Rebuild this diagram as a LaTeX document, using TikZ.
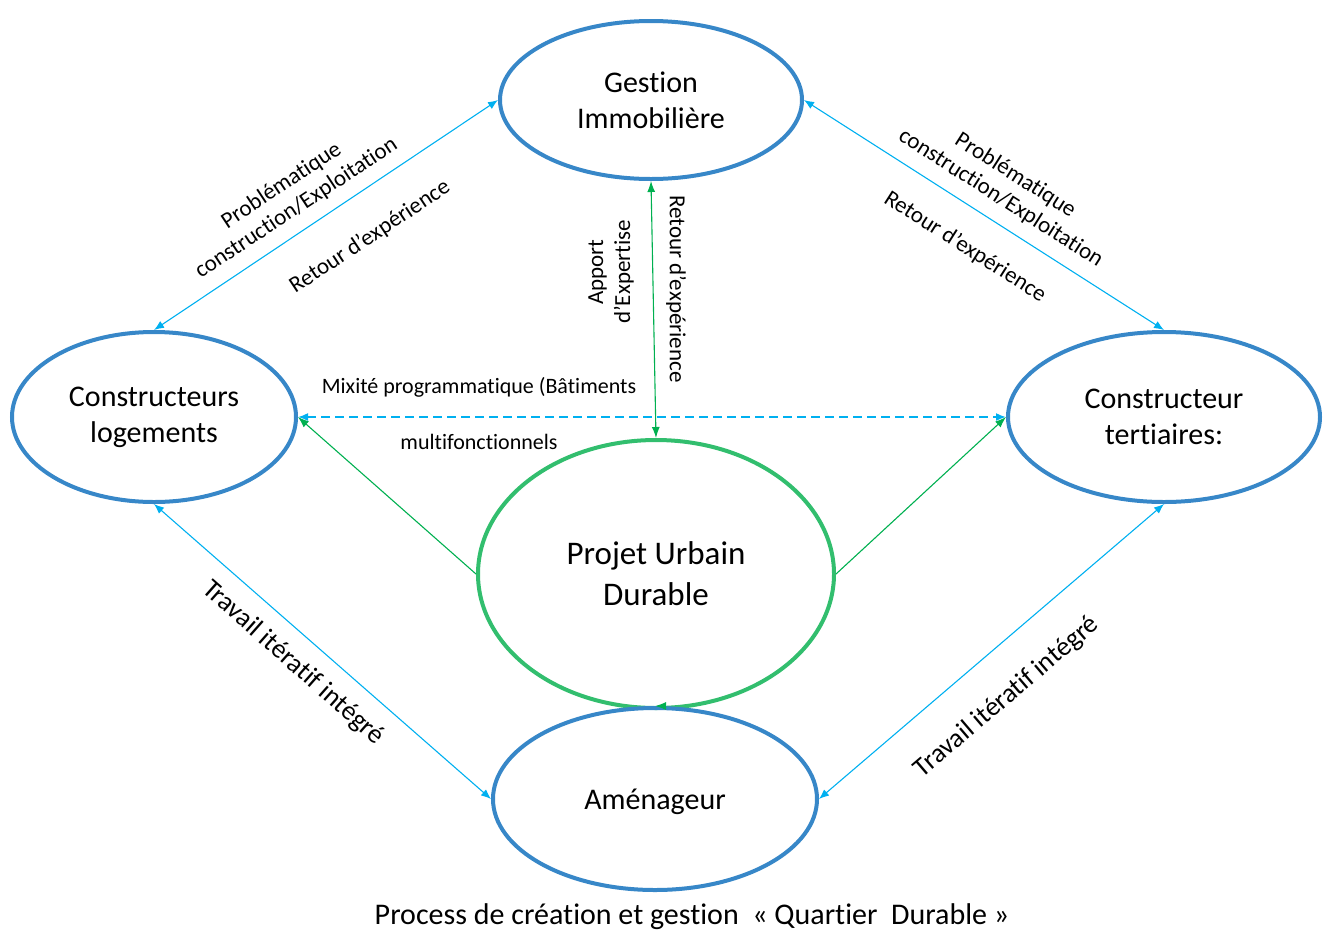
\documentclass[tikz,border=0pt]{standalone}
\usepackage{fontspec}
\setmainfont{Carlito}[RawFeature={-liga;-clig;-dlig;-calt}]
\usepackage{tikz}
\usetikzlibrary{shapes.geometric,arrows.meta,positioning,calc}
\usepackage{xcolor}

\definecolor{bleuell}{RGB}{55,135,200}
\definecolor{vertell}{RGB}{50,190,110}
\definecolor{cyanlig}{RGB}{0,176,240}
\definecolor{vertlig}{RGB}{0,176,80}

\tikzset{
  bulle/.style={ellipse, draw=bleuell, line width=4pt, inner sep=0pt, align=center,
    font=\fontsize{30}{36}\selectfont},
  fleche/.style={cyanlig, line width=1.1pt,
    {Latex[length=10pt,width=8pt]}-{Latex[length=10pt,width=8pt]}},
  flechev/.style={vertlig, line width=1.1pt, -{Latex[length=11pt,width=8pt]}},
  etiq/.style={font=\fontsize{23}{27}\selectfont, align=center},
  petit/.style={font=\fontsize{22}{26}\selectfont},
}

\begin{document}
\begin{tikzpicture}[x=1pt,y=-1pt]
            \useasboundingbox (0,0) rectangle (1328,930);

            % ellipses
            \node[bulle, minimum width=302pt, minimum height=158pt] (gestion) at (651,100) {Gestion\\Immobilière};
            \node[bulle, minimum width=284pt, minimum height=170pt] (logem) at (154,417) {Constructeurs\\logements};
            \node[bulle, minimum width=312pt, minimum height=170pt] (tert) at (1164,417) {Constructeur\\tertiaires:};
            \node[bulle, draw=vertell, minimum width=356pt, minimum height=268pt,
                  font=\fontsize{33}{41}\selectfont] (projet) at (656,574) {Projet Urbain\\Durable};
            \node[bulle, minimum width=324pt, minimum height=182pt, text height=26pt, text depth=6pt] (amen) at (655,799) {Aménageur};

            % Liens bleus
            \draw[fleche] (logem.north) -- (gestion.west);
            \draw[fleche] (gestion.east) -- (tert.north);
            \draw[fleche] (logem.south) -- (amen.west);
            \draw[fleche] (tert.south) -- (amen.east);
            \draw[fleche, dashed, dash pattern=on 9pt off 5pt, line width=1.6pt] (logem.east) -- (tert.west);

            % Liens verts
            \draw[flechev, {Latex[length=11pt,width=8pt]}-{Latex[length=11pt,width=8pt]}] (gestion.south) -- (projet.north);
            \draw[flechev] (projet.west) -- (logem.east);
            \draw[flechev] (projet.east) -- (tert.west);
            \draw[flechev] ([xshift=10pt]amen.north) -- (amen.north);

            % Labels
            \node[etiq, rotate=33.5] (probg) at (289,197) {Problématique\\construction/Exploitation};
            \node[etiq, rotate=33.5] (retg) at (370,237) {Retour d'expérience};
            \node[etiq, rotate=-32.5] (probd) at (1008,187) {Problématique\\construction/Exploitation};
            \node[etiq, rotate=-32.5] (retd) at (965,247) {Retour d'expérience};
            \node[etiq, rotate=90] (apport) at (611,272) {Apport\\d'Expertise};
            \node[etiq, rotate=-90] (retc) at (676,289) {Retour d'expérience};
            \node[petit] (mixite) at (479,387) {Mixité programmatique (Bâtiments};
            \node[petit] (multi) at (479,442) {multifonctionnels};
            \node[etiq, font=\fontsize{27}{32}\selectfont, rotate=-41.5] (travg) at (293,663) {Travail itératif intégré};
            \node[etiq, font=\fontsize{27}{32}\selectfont, rotate=40.5] (travd) at (1007,697) {Travail itératif intégré};
            \node[font=\fontsize{30}{36}\selectfont] (titre) at (692,917) {Process de création et gestion~~«~Quartier~~Durable~»};
\end{tikzpicture}
\end{document}
